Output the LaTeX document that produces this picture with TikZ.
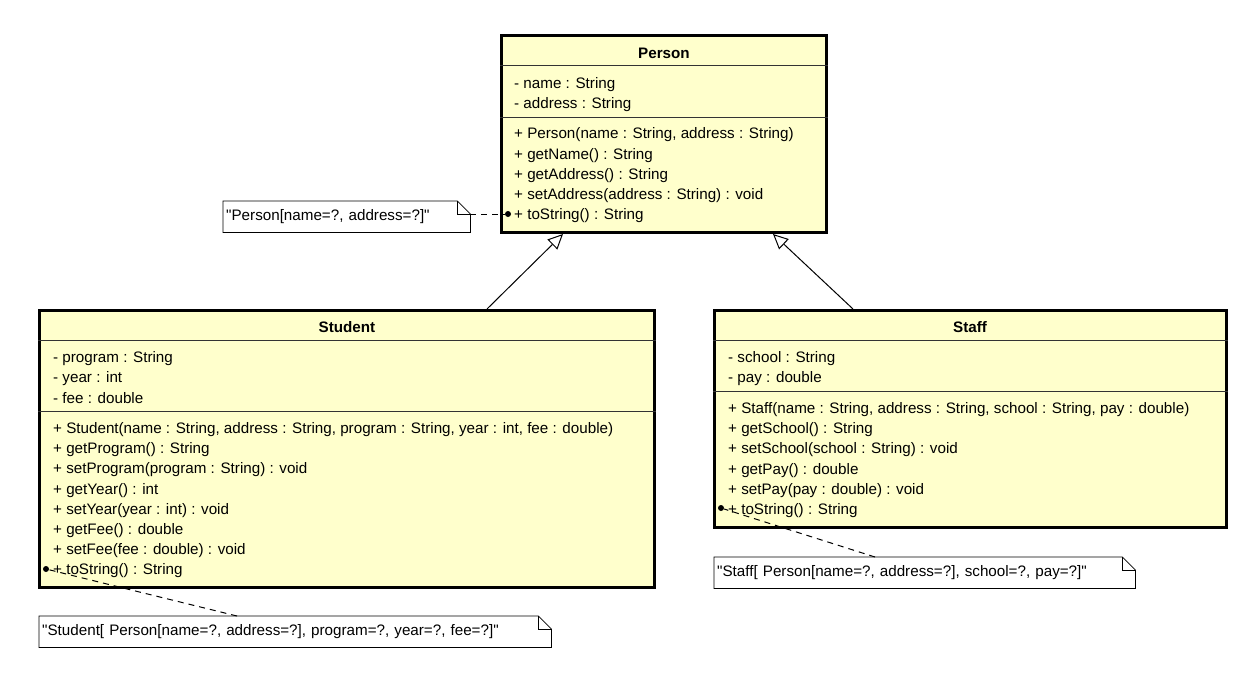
\documentclass[tikz,border=0pt]{standalone}
\usepackage{fontspec}
\setmainfont{Liberation Sans}[Ligatures=TeXOff]
\usetikzlibrary{arrows.meta}
\definecolor{umlfill}{RGB}{255,255,204}
\begin{document}
\begin{tikzpicture}[x=1pt,y=-1pt,
  classbox/.style={draw=black, line width=3pt, fill=umlfill, inner sep=0pt, anchor=north west},
  title/.style={font=\fontsize{15.2}{17}\selectfont\bfseries, inner sep=0pt, yshift=-1pt},
  member/.style={font=\fontsize{15.2}{17}\selectfont, anchor=west, inner sep=0pt, yshift=-1.5pt},
  sep/.style={line width=1pt, draw=black!80},
  notebox/.style={font=\fontsize{15.2}{17}\selectfont, anchor=north west, inner xsep=3pt, inner ysep=0pt,
     minimum height=31pt, fill=white, align=left},
  noteline/.style={draw=black, line width=0.8pt},
  link/.style={draw=black, line width=1pt, dash pattern=on 6pt off 5pt},
  gen/.style={draw=black, line width=1pt, -{Triangle[open, length=15pt, width=14pt, fill=white]}},
  dot/.style={circle, fill=black, inner sep=0pt, minimum size=6pt}
]
\useasboundingbox (0,0) rectangle (1258,680);
\fill[white] (0,0) rectangle (1258,680);

% Person
\node[classbox, minimum width=325pt, minimum height=197pt] (person) at (500,34) {};
\node[title] (person-t) at (664,52) {Person};
\draw[sep] (person.west |- 0,65) -- (person.east |- 0,65);
\draw[sep] (person.west |- 0,117) -- (person.east |- 0,117);
\node[member] (p1) at (514,83) {- name : String};
\node[member] (p2) at (514,103) {- address : String};
\node[member] (p3) at (514,133) {+ Person(name : String, address : String)};
\node[member] (p4) at (514,154) {+ getName() : String};
\node[member] (p5) at (514,174) {+ getAddress() : String};
\node[member] (p6) at (514,194) {+ setAddress(address : String) : void};
\node[member] (p7) at (514,214) {+ toString() : String};

% Student
\node[classbox, minimum width=615pt, minimum height=277pt] (student) at (38,309) {};
\node[title] (student-t) at (347,326) {Student};
\draw[sep] (student.west |- 0,340) -- (student.east |- 0,340);
\draw[sep] (student.west |- 0,411) -- (student.east |- 0,411);
\node[member] (s1) at (53,357) {- program : String};
\node[member] (s2) at (53,377) {- year : int};
\node[member] (s3) at (53,397) {- fee : double};
\node[member] (s4) at (53,428) {+ Student(name : String, address : String, program : String, year : int, fee : double)};
\node[member] (s5) at (53,448) {+ getProgram() : String};
\node[member] (s6) at (53,468) {+ setProgram(program : String) : void};
\node[member] (s7) at (53,489) {+ getYear() : int};
\node[member] (s8) at (53,509) {+ setYear(year : int) : void};
\node[member] (s9) at (53,529) {+ getFee() : double};
\node[member] (s10) at (53,549) {+ setFee(fee : double) : void};
\node[member] (s11) at (53,569) {+ toString() : String};

% Staff
\node[classbox, minimum width=512pt, minimum height=217pt] (staff) at (713,309) {};
\node[title] (staff-t) at (970,326) {Staff};
\draw[sep] (staff.west |- 0,340) -- (staff.east |- 0,340);
\draw[sep] (staff.west |- 0,391) -- (staff.east |- 0,391);
\node[member] (f1) at (728,357) {- school : String};
\node[member] (f2) at (728,377) {- pay : double};
\node[member] (f3) at (728,408) {+ Staff(name : String, address : String, school : String, pay : double)};
\node[member] (f4) at (728,428) {+ getSchool() : String};
\node[member] (f5) at (728,448) {+ setSchool(school : String) : void};
\node[member] (f6) at (728,469) {+ getPay() : double};
\node[member] (f7) at (728,489) {+ setPay(pay : double) : void};
\node[member] (f8) at (728,509) {+ toString() : String};

% Generalizations
\coordinate (st-top) at (487,309);
\coordinate (p-bot1) at (563,234);
\coordinate (sf-top) at (853,309);
\coordinate (p-bot2) at (773,234);
\draw[gen] (st-top) -- (p-bot1);
\draw[gen] (sf-top) -- (p-bot2);

% Notes
\node[notebox, text width=241pt] (pn) at (223,201) {\textquotedbl Person[name=?, address=?]\textquotedbl};
\node[notebox, text width=506pt] (sn) at (39,616) {\textquotedbl Student[ Person[name=?, address=?], program=?, year=?, fee=?]\textquotedbl};
\node[notebox, text width=415pt] (fn) at (714,557) {\textquotedbl Staff[ Person[name=?, address=?], school=?, pay=?]\textquotedbl};

\foreach \n in {pn,sn,fn}{
  \draw[noteline] (\n.north west) -- ([xshift=-13pt]\n.north east) -- ([yshift=-13pt]\n.north east) -- (\n.south east) -- (\n.south west) -- cycle;
  \draw[noteline] ([xshift=-13pt]\n.north east) -- ([xshift=-13pt,yshift=-13pt]\n.north east) -- ([yshift=-13pt]\n.north east);
}

% Note links
\node[dot] (d1) at (508,214) {};
\node[dot] (d2) at (46,569) {};
\node[dot] (d3) at (721,508) {};
\draw[link] ([yshift=-13pt]pn.north east) -- (d1);
\draw[link] ([xshift=198pt]sn.north west) -- (d2);
\draw[link] ([xshift=161pt]fn.north west) -- (d3);
\end{tikzpicture}
\end{document}
